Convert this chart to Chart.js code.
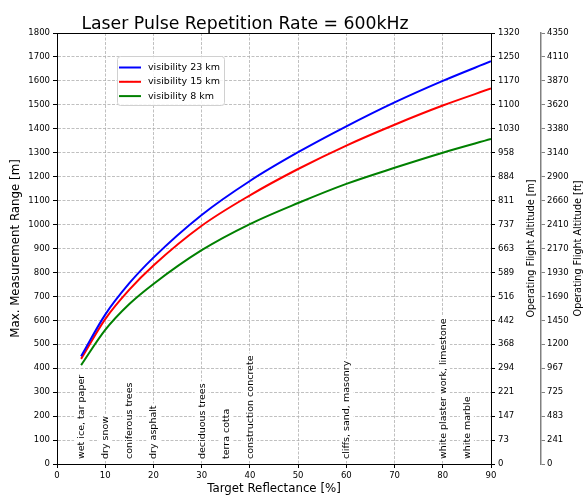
<!DOCTYPE html>
<html>
<head>
<meta charset="utf-8">
<script src="https://cdn.jsdelivr.net/npm/chart.js@4"></script>
<style>
  body { margin: 0; background: #fff; }
  canvas { display: block; }
</style>
</head>
<body>
<canvas id="myChart" width="586" height="498"></canvas>
<script>
// data
var reflectance = [5, 10, 15, 20, 30, 40, 50, 60, 70, 80, 90];
var vis23 = [450, 624, 755, 862, 1040, 1182, 1302, 1410, 1510, 1600, 1682];
var vis15 = [439, 605, 728, 829, 995, 1122, 1232, 1330, 1417, 1497, 1568];
var vis8  = [413, 560, 668, 752, 893, 1002, 1090, 1170, 1237, 1300, 1357];

var seriesNames = ["visibility 23 km", "visibility 15 km", "visibility 8 km"];
var seriesColors = ["#0000ff", "#ff0000", "#008000"];

var altitudeM = ["0", "73", "147", "221", "294", "368", "442", "516", "589", "663",
  "737", "811", "884", "958", "1030", "1100", "1170", "1250", "1320"];
var altitudeFt = ["0", "241", "483", "725", "967", "1200", "1450", "1690", "1930", "2170",
  "2410", "2660", "2900", "3140", "3380", "3620", "3870", "4110", "4350"];

var materials = ["wet ice, tar paper", "dry snow", "coniferous trees", "dry asphalt",
  "deciduous trees", "terra cotta", "construction concrete", "cliffs, sand, masonry",
  "white plaster work, limestone", "white marble"];
var materialX = [5, 10, 15, 20, 30, 35, 40, 60, 80, 85];

var FONT = "DejaVu Sans";
Chart.defaults.font.family = FONT;
Chart.defaults.color = "#000";

function points(values) {
  return reflectance.map(function (r, i) { return {x: r, y: values[i]}; });
}

var gridStyle = {color: "#b0b0b0", lineWidth: 0.8, tickColor: "#000", tickLength: 4, tickWidth: 1};

// frame top line, title, legend, material labels, right axis titles
var extras = {
  id: "extras",
  afterDraw: function (chart) {
    var ctx = chart.ctx;
    var a = chart.chartArea;
    var xs = chart.scales.x;
    ctx.save();

    ctx.strokeStyle = "#000";
    ctx.lineWidth = 1;
    ctx.beginPath();
    ctx.moveTo(a.left, a.top + 0.5);
    ctx.lineTo(a.right, a.top + 0.5);
    ctx.stroke();

    ctx.fillStyle = "#000";
    ctx.font = "17.3px " + FONT;
    ctx.textAlign = "center";
    ctx.textBaseline = "alphabetic";
    ctx.fillText("Laser Pulse Repetition Rate = 600kHz", 245, 28.5);

    // material labels, rotated, white background
    ctx.font = "9.5px " + FONT;
    ctx.textBaseline = "middle";
    ctx.textAlign = "left";
    for (var i = 0; i < materials.length; i++) {
      var px = xs.getPixelForValue(materialX[i]);
      var w = ctx.measureText(materials[i]).width;
      ctx.save();
      ctx.translate(px, a.bottom - 5);
      ctx.rotate(-Math.PI / 2);
      ctx.fillStyle = "#fff";
      ctx.fillRect(-2, -7, w + 4, 14);
      ctx.fillStyle = "#000";
      ctx.fillText(materials[i], 0, 0.5);
      ctx.restore();
    }

    // legend
    var lx = 117, ly = 56;
    ctx.fillStyle = "rgba(255,255,255,0.85)";
    ctx.strokeStyle = "#d0d0d0";
    ctx.lineWidth = 1;
    ctx.beginPath();
    ctx.roundRect(lx + 0.5, ly + 0.5, 107, 49, 3);
    ctx.fill();
    ctx.stroke();
    ctx.font = "9.5px " + FONT;
    chart.data.datasets.forEach(function (ds, k) {
      var y = 67.5 + k * 14.3;
      ctx.strokeStyle = ds.borderColor;
      ctx.lineWidth = 2;
      ctx.beginPath();
      ctx.moveTo(119, y);
      ctx.lineTo(141, y);
      ctx.stroke();
      ctx.fillStyle = "#000";
      ctx.fillText(ds.label, 148, y);
    });

    // right axis titles (read bottom to top)
    ctx.font = "9.6px " + FONT;
    ctx.textAlign = "center";
    var cy = (a.top + a.bottom) / 2;
    [[531.5, "Operating Flight Altitude [m]"], [578, "Operating Flight Altitude [ft]"]].forEach(function (t) {
      ctx.save();
      ctx.translate(t[0], cy);
      ctx.rotate(-Math.PI / 2);
      ctx.fillText(t[1], 0, 0);
      ctx.restore();
    });
    ctx.restore();
  }
};

new Chart("myChart", {
  type: "line",
  data: {
    datasets: [
      {label: seriesNames[0], data: points(vis23), borderColor: seriesColors[0]},
      {label: seriesNames[1], data: points(vis15), borderColor: seriesColors[1]},
      {label: seriesNames[2], data: points(vis8), borderColor: seriesColors[2]}
    ]
  },
  options: {
    responsive: false,
    animation: false,
    devicePixelRatio: 1,
    layout: {padding: {top: 33, right: 0, bottom: 0, left: 0}},
    elements: {
      line: {borderWidth: 2, cubicInterpolationMode: "monotone", fill: false},
      point: {radius: 0}
    },
    plugins: {legend: {display: false}, title: {display: false}, tooltip: {enabled: false}},
    scales: {
      x: {
        type: "linear", min: 0, max: 90,
        ticks: {stepSize: 10, font: {size: 8.5}, padding: 3, maxRotation: 0,
          callback: function (v) { return String(v); }},
        grid: gridStyle,
        border: {color: "#000", width: 1, dash: [3, 1.5]},
        title: {display: true, text: "Target Reflectance [%]", font: {size: 11.8}, padding: {top: 0, bottom: 2}},
        afterFit: function (s) { s.height = 34; }
      },
      y: {
        position: "left", min: 0, max: 1800,
        ticks: {stepSize: 100, font: {size: 8.5}, padding: 3,
          callback: function (v) { return String(v); }},
        grid: gridStyle,
        border: {color: "#000", width: 1, dash: [3, 1.5]},
        title: {display: true, text: "Max. Measurement Range [m]", font: {size: 11.8}, padding: {top: 9, bottom: 0}},
        afterFit: function (s) { s.width = 57; }
      },
      y2: {
        position: "right", min: 0, max: 1800,
        ticks: {stepSize: 100, font: {size: 8.5}, padding: 3,
          callback: function (v, i) { return altitudeM[i]; }},
        grid: {drawOnChartArea: false, tickColor: "#000", tickLength: 4},
        border: {color: "#000", width: 1},
        afterFit: function (s) { s.width = 50; }
      },
      y3: {
        position: "right", min: 0, max: 1800,
        ticks: {stepSize: 100, font: {size: 8.5}, padding: 2,
          callback: function (v, i) { return altitudeFt[i]; }},
        grid: {drawOnChartArea: false, tickColor: "#808080", tickLength: 4},
        border: {color: "#808080", width: 1.5},
        afterFit: function (s) { s.width = 45; }
      }
    }
  },
  plugins: [extras]
});
</script>
</body>
</html>
